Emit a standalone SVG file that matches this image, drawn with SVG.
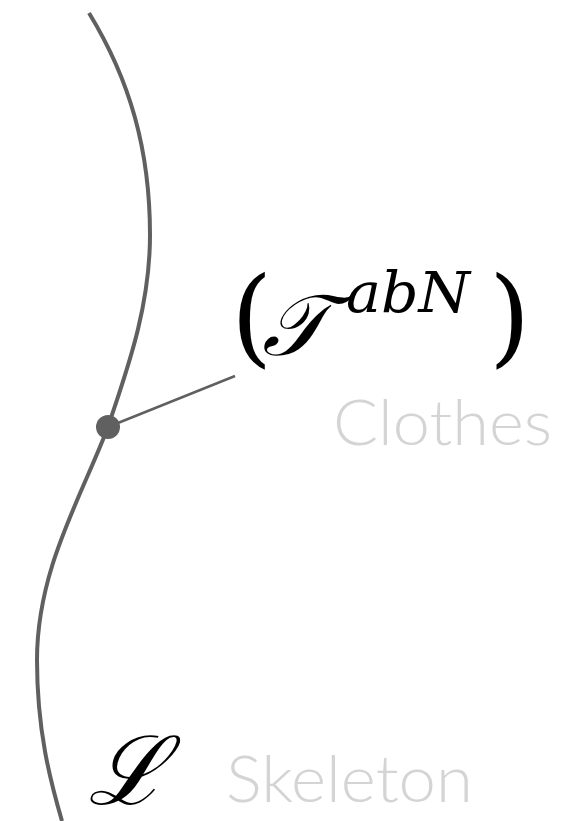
<svg xmlns="http://www.w3.org/2000/svg" width="578" height="821" viewBox="0 0 578 821">
<style>
.curve{fill:none;stroke:#606060;stroke-width:4;stroke-linecap:butt}
.lead{fill:none;stroke:#606060;stroke-width:2.5}
.math{font-family:"DejaVu Serif","Liberation Serif",serif;fill:#000}
.label{font-family:"Lato","Liberation Sans",sans-serif;fill:#d4d4d4;font-weight:300}
</style>
<rect width="578" height="821" fill="#fff"/>
<g id="connectors">
<path class="curve" d="M89,13 C130,80 150,150 150,235 C150,310 125,375 108,427 C80,500 37,570 37,660 C37,730 50,780 62,821"/>
<line class="lead" x1="108" y1="427" x2="235" y2="376"/>
</g>
<g id="point">
<circle cx="108" cy="427" r="12" fill="#606060"/>
</g>
<g id="clothes">
<text class="math" x="231" y="353" font-size="106" font-family="Liberation Serif" font-weight="300">(</text>
<text class="math" x="262" y="355" font-size="86" font-style="italic">𝒯</text>
<text class="math" x="346" y="312" font-size="56" font-style="italic" font-family="Liberation Serif" textLength="124" lengthAdjust="spacingAndGlyphs">abN</text>
<text class="math" x="489" y="353" font-size="106" font-family="Liberation Serif">)</text>
<text class="label" x="333" y="445" font-size="64" textLength="219" lengthAdjust="spacingAndGlyphs">Clothes</text>
</g>
<g id="skeleton">
<text class="math" x="88" y="804" font-size="95" font-style="italic">ℒ</text>
<text class="label" x="226" y="802" font-size="66" textLength="247" lengthAdjust="spacingAndGlyphs">Skeleton</text>
</g>
</svg>
